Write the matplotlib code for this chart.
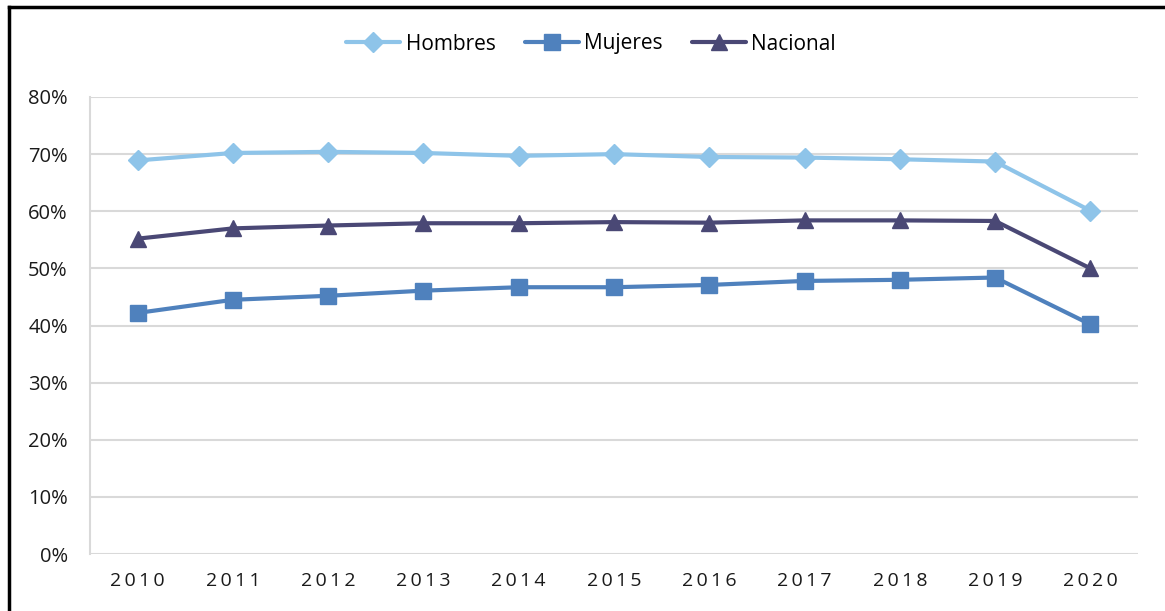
import matplotlib.pyplot as plt
from matplotlib.lines import Line2D
from matplotlib.ticker import PercentFormatter

years = [2010, 2011, 2012, 2013, 2014, 2015, 2016, 2017, 2018, 2019, 2020]
hombres = [68.9, 70.2, 70.4, 70.2, 69.7, 70.0, 69.5, 69.4, 69.1, 68.7, 60.1]
mujeres = [42.2, 44.5, 45.2, 46.1, 46.7, 46.7, 47.1, 47.8, 48.0, 48.4, 40.2]
nacional = [55.2, 57.0, 57.5, 57.9, 57.9, 58.1, 58.0, 58.4, 58.4, 58.3, 50.0]

series = [
    ("Hombres", hombres, "#8EC4E9", "D", 10),
    ("Mujeres", mujeres, "#4F81BD", "s", 11.5),
    ("Nacional", nacional, "#4A4875", "^", 11.5),
]

plt.rcParams["font.family"] = ["Open Sans", "DejaVu Sans"]

fig = plt.figure(figsize=(11.65, 6.11), dpi=100)
ax = fig.add_axes([90 / 1165, 1 - 554 / 611, 1048 / 1165, 457 / 611])

x = list(range(len(years)))
for name, values, color, marker, size in series:
    ax.plot(
        x,
        values,
        color=color,
        linewidth=3,
        marker=marker,
        markersize=size,
        label=name,
        solid_capstyle="round",
    )

ax.set_xlim(-0.5, len(years) - 0.5)
ax.set_ylim(0, 80)
ax.set_yticks(range(0, 81, 10))
ax.yaxis.set_major_formatter(PercentFormatter(decimals=0))
ax.set_xticks(x)
ax.set_xticklabels(["\u2009".join(str(y)) for y in years])

ax.grid(axis="y", color="#D9D9D9", linewidth=1.5)
ax.set_axisbelow(True)
for side in ["top", "right", "bottom"]:
    ax.spines[side].set_visible(False)
ax.spines["left"].set_color("#D9D9D9")
ax.spines["left"].set_linewidth(1.5)
ax.tick_params(axis="both", length=0, colors="#1a1a1a")
ax.tick_params(axis="x", pad=13, labelsize=14)
ax.tick_params(axis="y", pad=16, labelsize=14.5)

ax.legend(
    loc="center",
    bbox_to_anchor=(591 / 1165, 1 - 44 / 611),
    bbox_transform=fig.transFigure,
    ncol=3,
    frameon=False,
    fontsize=15,
    handlelength=2.6,
    handletextpad=0.25,
    columnspacing=1.4,
)

# frame lines on top and left edges
fig.add_artist(Line2D([8.5 / 1165, 1], [1 - 7 / 611, 1 - 7 / 611],
                      transform=fig.transFigure, color="black", linewidth=2.5))
fig.add_artist(Line2D([8.5 / 1165, 8.5 / 1165], [0, 1 - 7 / 611],
                      transform=fig.transFigure, color="black", linewidth=2.5))

fig.savefig("out.png", dpi=100)
